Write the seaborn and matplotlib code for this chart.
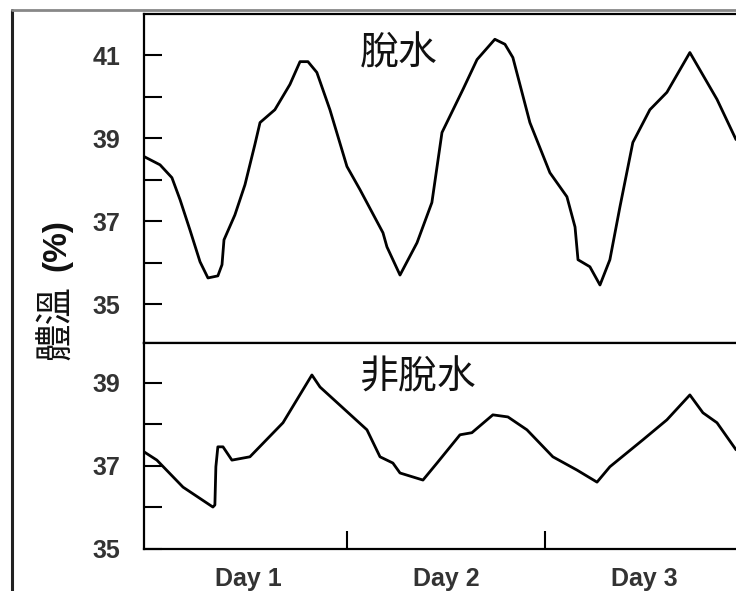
import numpy as np
import pandas as pd
import matplotlib
matplotlib.use('Agg')
import matplotlib.pyplot as plt
from matplotlib.lines import Line2D
from matplotlib.ticker import FixedLocator
import seaborn as sns

# time in days, body temperature
dehyd_day = [-0.025, 0.056, 0.116, 0.157, 0.207, 0.258, 0.298, 0.348, 0.369, 0.379,
             0.434, 0.485, 0.535, 0.561, 0.636, 0.712, 0.763, 0.803, 0.848, 0.914,
             1.000, 1.066, 1.182, 1.202, 1.268, 1.354, 1.429, 1.480, 1.586, 1.657,
             1.747, 1.798, 1.838, 1.924, 2.025, 2.111, 2.152, 2.167, 2.227, 2.278,
             2.328, 2.379, 2.444, 2.530, 2.616, 2.732, 2.869, 2.965]
dehyd_temp = [38.56, 38.36, 38.05, 37.52, 36.79, 36.02, 35.63, 35.68, 35.95, 36.55,
              37.15, 37.88, 38.85, 39.38, 39.69, 40.30, 40.85, 40.85, 40.59, 39.69,
              38.32, 37.76, 36.72, 36.38, 35.70, 36.48, 37.45, 39.14, 40.18, 40.90,
              41.39, 41.27, 40.95, 39.38, 38.17, 37.59, 36.86, 36.07, 35.90, 35.46,
              36.07, 37.35, 38.90, 39.69, 40.11, 41.07, 39.94, 38.97]

normal_day = [-0.025, 0.040, 0.172, 0.323, 0.333, 0.338, 0.348, 0.374, 0.419, 0.510,
              0.677, 0.823, 0.864, 1.101, 1.167, 1.232, 1.268, 1.384, 1.455, 1.571,
              1.631, 1.737, 1.813, 1.909, 2.040, 2.162, 2.263, 2.328, 2.495, 2.616,
              2.732, 2.798, 2.869, 2.965]
normal_temp = [37.34, 37.14, 36.49, 36.01, 36.06, 36.98, 37.46, 37.46, 37.14, 37.22,
               38.04, 39.19, 38.90, 37.87, 37.22, 37.07, 36.83, 36.66, 37.07, 37.75,
               37.80, 38.23, 38.18, 37.87, 37.22, 36.90, 36.61, 36.98, 37.63, 38.11,
               38.71, 38.28, 38.04, 37.39]

top_major = [35, 37, 39, 41]
top_minor = [36, 38, 40]
bottom_major = [35, 37, 39]
bottom_minor = [36, 38]

day_labels = ['Day 1', 'Day 2', 'Day 3']
day_label_pos = [0.5, 1.5, 2.5]
day_bounds = [1, 2]

sns.set_style('ticks')
plt.rcParams['font.family'] = ['Liberation Sans', 'Noto Sans CJK TC', 'DejaVu Sans']
cjk = ['Noto Sans CJK TC', 'DejaVu Sans']

df1 = pd.DataFrame({'day': dehyd_day, 'temp': dehyd_temp})
df2 = pd.DataFrame({'day': normal_day, 'temp': normal_temp})

fig = plt.figure(figsize=(7.36, 5.91), dpi=100)
W, H = 736, 591
ax1 = fig.add_axes([144 / W, 1 - 343 / H, 1 - 144 / W, (343 - 14) / H])
ax2 = fig.add_axes([144 / W, 1 - 549 / H, 1 - 144 / W, (549 - 343) / H])

sns.lineplot(data=df1, x='day', y='temp', ax=ax1, color='black', linewidth=2.0)
sns.lineplot(data=df2, x='day', y='temp', ax=ax2, color='black', linewidth=2.0)

xlim = (-0.025, 2.965)
ax1.set_xlim(*xlim)
ax2.set_xlim(*xlim)
ax1.set_ylim(34.06, 42.0)
ax2.set_ylim(35.0, 39.96)

ax1.yaxis.set_major_locator(FixedLocator(top_major))
ax1.yaxis.set_minor_locator(FixedLocator(top_minor))
ax2.yaxis.set_major_locator(FixedLocator(bottom_major))
ax2.yaxis.set_minor_locator(FixedLocator(bottom_minor))

for ax in (ax1, ax2):
    ax.set_xlabel('')
    ax.set_ylabel('')
    ax.spines['right'].set_visible(False)
    for s in ('left', 'top', 'bottom'):
        ax.spines[s].set_linewidth(1.6)
        ax.spines[s].set_color('black')
    ax.tick_params(axis='y', which='both', direction='in', length=13, width=1.5,
                   pad=17, labelsize=18, labelcolor='#333333', color='black')
    ax.set_yticks(ax.get_yticks())
    ax.set_yticklabels([f'{int(t)}' for t in ax.get_yticks()], fontweight='bold')

ax1.set_xticks([])
ax2.set_xticks(day_bounds)
ax2.set_xticklabels([])
ax2.set_xticks(day_label_pos, minor=True)
ax2.set_xticklabels(day_labels, minor=True, fontweight='bold')
ax2.tick_params(axis='x', which='major', direction='in', length=13, width=1.5, color='black')
ax2.tick_params(axis='x', which='minor', length=0, pad=13, labelsize=18, labelcolor='#333333')

ax1.text(0.365, 0.881, '脫水', transform=ax1.transAxes, family=cjk,
         fontsize=28, ha='left', va='center', color='#111111')
ax2.text(0.365, 0.835, '非脫水', transform=ax2.transAxes, family=cjk,
         fontsize=28, ha='left', va='center', color='#111111')

# y label: CJK part plus bold (%)
fig.text(57 / W, 1 - 322 / H, '體溫', rotation=90, family=cjk, fontsize=27,
         ha='center', va='center', color='#111111')
fig.text(57 / W, 1 - 245 / H, '(%)', rotation=90, family=['Liberation Sans'],
         fontweight='bold', fontsize=24, ha='center', va='center', color='#111111')

# outer frame of the scanned figure
fig.add_artist(Line2D([12 / W, 12 / W], [0, 1 - 10 / H], transform=fig.transFigure,
                      color='#222222', linewidth=2.2))
fig.add_artist(Line2D([12 / W, 1], [1 - 10 / H, 1 - 10 / H], transform=fig.transFigure,
                      color='#888888', linewidth=2.0))

fig.savefig('out.png', dpi=100)
